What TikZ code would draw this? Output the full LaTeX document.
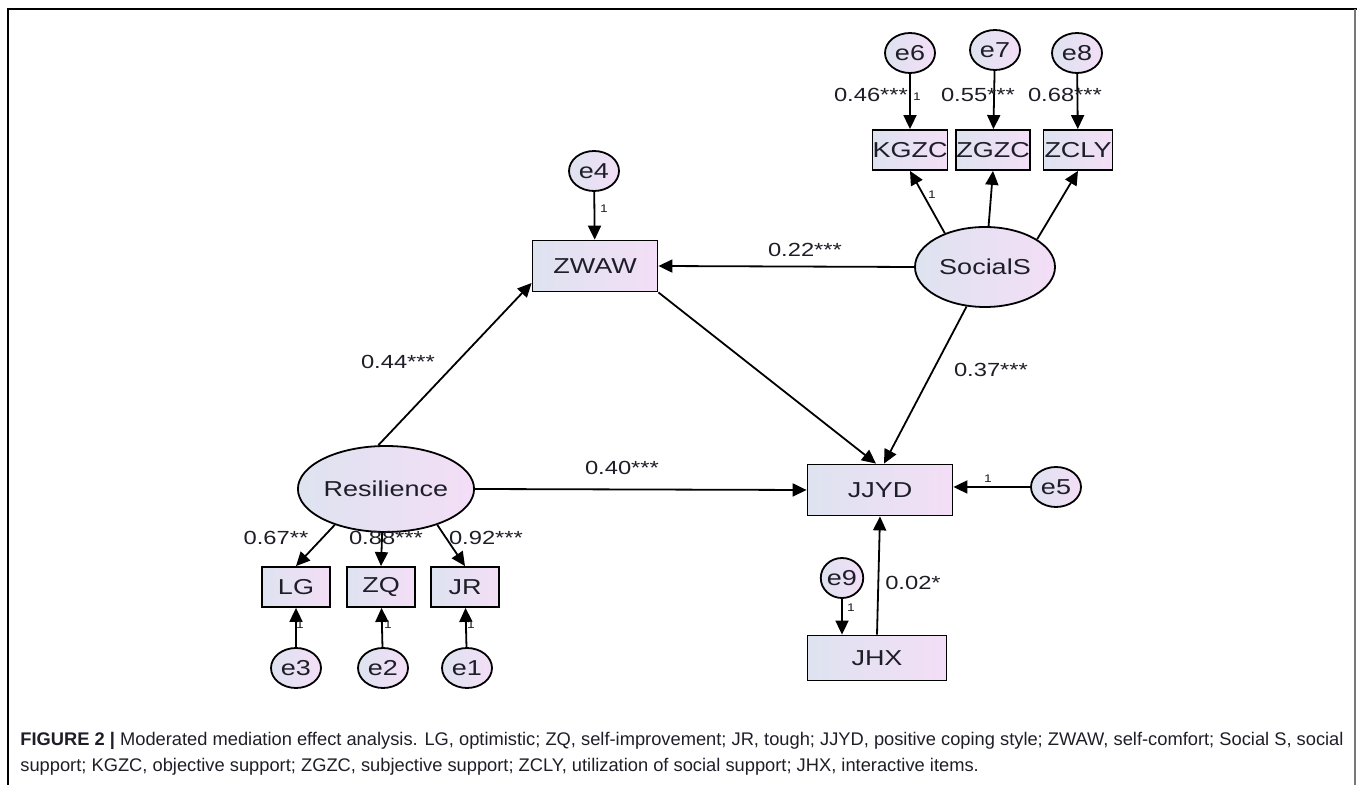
\documentclass[tikz,border=0pt]{standalone}
\usepackage{fontspec}
\setmainfont{Liberation Sans}
\newfontfamily\dgfont[FakeStretch=1.25]{Liberation Sans}
\usetikzlibrary{arrows.meta,shapes.geometric}

\definecolor{fillL}{RGB}{222,227,240}
\definecolor{fillR}{RGB}{243,222,246}
\definecolor{framegray}{RGB}{120,120,120}
\definecolor{inkdark}{RGB}{30,30,40}

\begin{document}
\begin{tikzpicture}[
    x=0.5pt, y=-0.5pt,
    every node/.style={text=inkdark},
    obsbox/.style={draw, line width=0.9pt, left color=fillL, right color=fillR, inner sep=0pt, font=\dgfont\fontsize{10.8}{12}\selectfont},
    latent/.style={ellipse, draw, line width=0.9pt, left color=fillL, right color=fillR, inner sep=0pt, font=\dgfont\fontsize{10.8}{12}\selectfont},
    errnode/.style={latent, minimum width=25pt, minimum height=20pt},
    coef/.style={font=\dgfont\fontsize{9.5}{10}\selectfont, inner sep=1pt},
    one/.style={font=\dgfont\fontsize{5.5}{6}\selectfont, inner sep=0.5pt},
    path/.style={->, line width=0.9pt},
    >={Triangle[length=7pt,width=6.5pt]}
]
    \useasboundingbox (0,0) rectangle (1357,785);

    % frame
    \draw[line width=1pt] (8,785) -- (8,9) -- (1357,9);
    \draw[line width=1pt, framegray] (1355,9) -- (1355,785);

    % latent variables
    \node[latent, minimum width=67pt, minimum height=43pt] (R) at (386,489) {Resilience};
    \node[latent, minimum width=70pt, minimum height=40pt] (S) at (985,267) {SocialS};

    % observed variables
    \node[obsbox, minimum width=62.5pt, minimum height=25.5pt] (ZWAW) at (595,266) {ZWAW};
    \node[obsbox, minimum width=72.5pt, minimum height=25.5pt] (JJYD) at (880,490) {JJYD};
    \node[obsbox, minimum width=69.5pt, minimum height=22.5pt] (JHX) at (877,658) {JHX};
    \node[obsbox, minimum width=34.5pt, minimum height=20pt] (KGZC) at (910,150) {KGZC};
    \node[obsbox, minimum width=34.5pt, minimum height=20pt] (ZGZC) at (993,150) {ZGZC};
    \node[obsbox, minimum width=34.5pt, minimum height=20pt] (ZCLY) at (1078,150) {ZCLY};
    \node[obsbox, minimum width=34pt, minimum height=20pt] (LG) at (296,587) {LG};
    \node[obsbox, minimum width=34pt, minimum height=20pt] (ZQ) at (381,587) {ZQ};
    \node[obsbox, minimum width=34pt, minimum height=20pt] (JR) at (465,587) {JR};

    % error terms
    \node[errnode] (e1) at (467,668) {e1};
    \node[errnode] (e2) at (383,668) {e2};
    \node[errnode] (e3) at (296,668) {e3};
    \node[errnode] (e4) at (594,171) {e4};
    \node[errnode] (e5) at (1056,487) {e5};
    \node[errnode] (e6) at (910,53) {e6};
    \node[errnode] (e7) at (995,50) {e7};
    \node[errnode] (e8) at (1077,53) {e8};
    \node[errnode, minimum width=19pt] (e9) at (842,578) {e9};

    % paths
    \path[path]
        (R.100) edge (ZWAW.195)
        (R.east) edge (JJYD.west)
        (ZWAW.south east) edge ([xshift=-2pt]JJYD.north)
        (S.west) edge (ZWAW.east)
        (S.245) edge ([xshift=2pt]JJYD.north)
        (S.140) edge (KGZC.south)
        (S.85) edge (ZGZC.south)
        (S.28) edge (ZCLY.south)
        (R.215) edge (LG.north)
        (R.265) edge (ZQ.north)
        (R.325) edge (JR.north)
        (e3) edge (LG)
        (e2) edge (ZQ)
        (e1) edge (JR)
        (e4) edge (ZWAW)
        (e6) edge (KGZC)
        (e7) edge (ZGZC)
        (e8) edge (ZCLY)
        (e5) edge (JJYD.east |- e5)
        (e9.south) edge (e9.south |- JHX.north)
        (JHX.north) edge (JJYD.south);

    % coefficients
    \node[coef] (c44) at (398,362) {0.44***};
    \node[coef] (c40) at (622,468) {0.40***};
    \node[coef] (c22) at (805,250) {0.22***};
    \node[coef] (c37) at (991,370) {0.37***};
    \node[coef] (c02) at (913,583) {0.02*};
    \node[coef] (c67) at (276,538) {0.67**};
    \node[coef] (c88) at (386,538) {0.88***};
    \node[coef] (c92) at (486,538) {0.92***};
    \node[coef] (c46) at (871,95) {0.46***};
    \node[coef] (c55) at (978,95) {0.55***};
    \node[coef] (c68) at (1065,95) {0.68***};

    % fixed loadings
    \node[one] at (917,97) {1};
    \node[one] at (932,195) {1};
    \node[one] at (604,209) {1};
    \node[one] at (988,479) {1};
    \node[one] at (851,608) {1};
    \node[one] at (300,625) {1};
    \node[one] at (388,625) {1};
    \node[one] at (471,625) {1};

    % caption
    \node[anchor=west, inner sep=0pt, font=\fontsize{9.15}{10}\selectfont] (cap1) at (20,741)
        {\textbf{FIGURE 2 |} Moderated mediation effect analysis. LG, optimistic; ZQ, self-improvement; JR, tough; JJYD, positive coping style; ZWAW, self-comfort; Social S, social};
    \node[anchor=west, inner sep=0pt, font=\fontsize{9.15}{10}\selectfont] (cap2) at (20,767)
        {support; KGZC, objective support; ZGZC, subjective support; ZCLY, utilization of social support; JHX, interactive items.};
\end{tikzpicture}
\end{document}
